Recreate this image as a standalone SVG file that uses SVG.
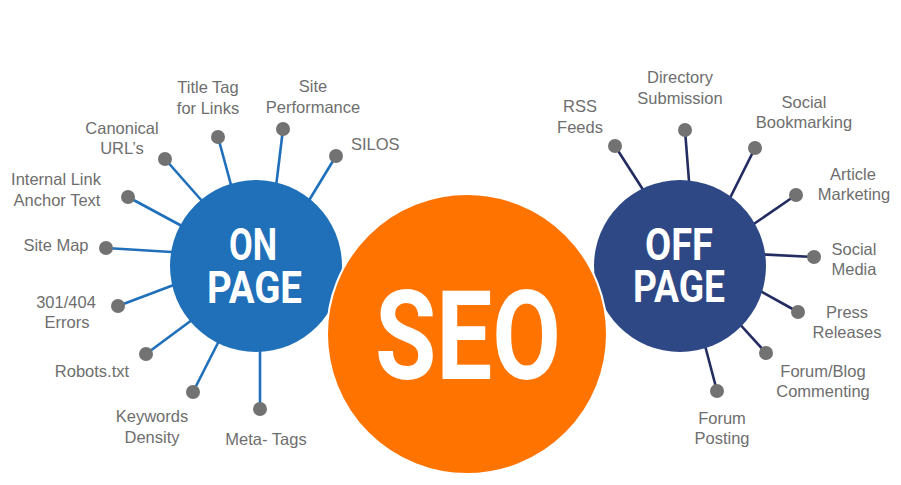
<svg xmlns="http://www.w3.org/2000/svg" width="901" height="485" viewBox="0 0 901 485">
<style>
.lbl{font-family:"Liberation Sans",Arial,sans-serif;font-size:16.5px;fill:#6e6e6e;text-anchor:middle}
.l{text-anchor:start}
.dot{fill:#727272}
.on{stroke:#1f6fbb;stroke-width:2.6;fill:none}
.off{stroke:#222c60;stroke-width:2.6;fill:none}
.big{font-family:Roboto,"Liberation Sans",sans-serif;font-weight:700;fill:#ffffff;text-anchor:middle}
</style>
<rect width="901" height="485" fill="#ffffff"/>
<g id="connectors">
<line class="on" x1="218" y1="137" x2="234" y2="196"/>
<line class="on" x1="283" y1="129" x2="275" y2="195"/>
<line class="on" x1="336" y1="156" x2="305" y2="207"/>
<line class="on" x1="165" y1="159" x2="210" y2="210"/>
<line class="on" x1="128" y1="197" x2="193" y2="232"/>
<line class="on" x1="106" y1="248" x2="188" y2="253"/>
<line class="on" x1="118" y1="306" x2="187" y2="280"/>
<line class="on" x1="146" y1="354" x2="200" y2="314"/>
<line class="on" x1="193" y1="392" x2="224" y2="331"/>
<line class="on" x1="260" y1="409" x2="260" y2="338"/>
<line class="off" x1="615" y1="146" x2="649" y2="199"/>
<line class="off" x1="685" y1="130" x2="690" y2="194"/>
<line class="off" x1="755" y1="148" x2="725" y2="208"/>
<line class="off" x1="796" y1="195" x2="745" y2="230"/>
<line class="off" x1="814" y1="257" x2="754" y2="254"/>
<line class="off" x1="798" y1="312" x2="753" y2="287"/>
<line class="off" x1="766" y1="353" x2="736" y2="320"/>
<line class="off" x1="717" y1="391" x2="703" y2="338"/>
</g>
<g id="on-page">
<circle cx="256" cy="266" r="86" fill="#1f70b9"/>
<text class="big" font-size="44"><tspan x="253" y="260" textLength="48" lengthAdjust="spacingAndGlyphs">ON</tspan><tspan x="254.5" y="303" textLength="95" lengthAdjust="spacingAndGlyphs">PAGE</tspan></text>
</g>
<g id="off-page">
<circle cx="680" cy="266" r="86" fill="#2e4886"/>
<text class="big" font-size="44"><tspan x="679" y="260" textLength="68" lengthAdjust="spacingAndGlyphs">OFF</tspan><tspan x="679" y="302" textLength="92" lengthAdjust="spacingAndGlyphs">PAGE</tspan></text>
</g>
<g id="seo">
<circle cx="467" cy="334" r="140" fill="#ff7300" stroke="#ffffff" stroke-width="2"/>
<text class="big" x="468" y="379" font-size="125" textLength="186" lengthAdjust="spacingAndGlyphs">SEO</text>
</g>
<g id="on-items">
<g id="title-tag"><circle class="dot" cx="218" cy="137" r="7"/><text class="lbl" x="208" y="93">Title Tag</text><text class="lbl" x="208" y="114">for Links</text></g>
<g id="site-performance"><circle class="dot" cx="283" cy="129" r="7"/><text class="lbl" x="313" y="92">Site</text><text class="lbl" x="313" y="113">Performance</text></g>
<g id="silos"><circle class="dot" cx="336" cy="156" r="7"/><text class="lbl l" x="351" y="150">SILOS</text></g>
<g id="canonical"><circle class="dot" cx="165" cy="159" r="7"/><text class="lbl" x="122" y="134">Canonical</text><text class="lbl" x="122" y="154">URL’s</text></g>
<g id="internal-link"><circle class="dot" cx="128" cy="197" r="7"/><text class="lbl" x="56" y="185">Internal Link</text><text class="lbl" x="57" y="206">Anchor Text</text></g>
<g id="site-map"><circle class="dot" cx="106" cy="248" r="7"/><text class="lbl" x="56" y="251">Site Map</text></g>
<g id="errors"><circle class="dot" cx="118" cy="306" r="7"/><text class="lbl" x="66" y="308">301/404</text><text class="lbl" x="67" y="328">Errors</text></g>
<g id="robots"><circle class="dot" cx="146" cy="354" r="7"/><text class="lbl" x="92" y="377">Robots.txt</text></g>
<g id="keywords"><circle class="dot" cx="193" cy="392" r="7"/><text class="lbl" x="152" y="422">Keywords</text><text class="lbl" x="152" y="443">Density</text></g>
<g id="meta-tags"><circle class="dot" cx="260" cy="409" r="7"/><text class="lbl" x="266" y="445">Meta- Tags</text></g>
</g>
<g id="off-items">
<g id="rss"><circle class="dot" cx="615" cy="146" r="7"/><text class="lbl" x="580" y="112">RSS</text><text class="lbl" x="580" y="133">Feeds</text></g>
<g id="directory"><circle class="dot" cx="685" cy="130" r="7"/><text class="lbl" x="680" y="83">Directory</text><text class="lbl" x="680" y="104">Submission</text></g>
<g id="social-bookmarking"><circle class="dot" cx="755" cy="148" r="7"/><text class="lbl" x="804" y="108">Social</text><text class="lbl" x="804" y="128">Bookmarking</text></g>
<g id="article"><circle class="dot" cx="796" cy="195" r="7"/><text class="lbl" x="853" y="180">Article</text><text class="lbl" x="854" y="200">Marketing</text></g>
<g id="social-media"><circle class="dot" cx="814" cy="257" r="7"/><text class="lbl" x="854" y="255">Social</text><text class="lbl" x="854" y="275">Media</text></g>
<g id="press"><circle class="dot" cx="798" cy="312" r="7"/><text class="lbl" x="847" y="318">Press</text><text class="lbl" x="847" y="338">Releases</text></g>
<g id="forum-blog"><circle class="dot" cx="766" cy="353" r="7"/><text class="lbl" x="823" y="377">Forum/Blog</text><text class="lbl" x="823" y="397">Commenting</text></g>
<g id="forum-posting"><circle class="dot" cx="717" cy="391" r="7"/><text class="lbl" x="722" y="424">Forum</text><text class="lbl" x="722" y="444">Posting</text></g>
</g>
</svg>
